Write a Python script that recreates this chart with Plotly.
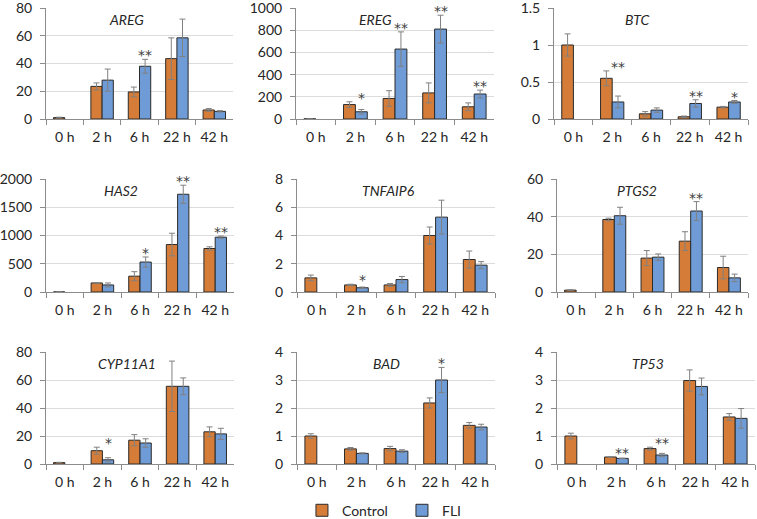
import plotly.graph_objects as go

times = ["0 h", "2 h", "6 h", "22 h", "42 h"]
genes = ["AREG", "EREG", "BTC", "HAS2", "TNFAIP6", "PTGS2", "CYP11A1", "BAD", "TP53"]

areg_ctrl = [1.0, 23.5, 19.5, 43.5, 6.5]
areg_ctrl_err = [0.3, 2.5, 3.5, 15, 1.0]
areg_fli = [None, 28, 38, 58.5, 5.5]
areg_fli_err = [None, 8, 5, 13.5, 0.5]
areg_sig = ["", "", "**", "", ""]

ereg_ctrl = [1.0, 130, 185, 235, 110]
ereg_ctrl_err = [1, 25, 70, 90, 35]
ereg_fli = [None, 65, 630, 810, 225]
ereg_fli_err = [None, 20, 155, 125, 35]
ereg_sig = ["", "*", "**", "**", "**"]

btc_ctrl = [1.0, 0.55, 0.07, 0.03, 0.16]
btc_ctrl_err = [0.15, 0.1, 0.03, 0.01, 0.01]
btc_fli = [None, 0.23, 0.12, 0.21, 0.23]
btc_fli_err = [None, 0.08, 0.03, 0.05, 0.02]
btc_sig = ["", "**", "", "**", "*"]

has2_ctrl = [1.0, 160, 280, 840, 770]
has2_ctrl_err = [1, 5, 80, 200, 30]
has2_fli = [None, 125, 530, 1730, 970]
has2_fli_err = [None, 35, 90, 160, 20]
has2_sig = ["", "", "*", "**", "**"]

tnfaip6_ctrl = [1.0, 0.5, 0.5, 4.0, 2.3]
tnfaip6_ctrl_err = [0.2, 0.05, 0.1, 0.6, 0.6]
tnfaip6_fli = [None, 0.3, 0.88, 5.3, 1.9]
tnfaip6_fli_err = [None, 0.05, 0.22, 1.2, 0.25]
tnfaip6_sig = ["", "*", "", "", ""]

ptgs2_ctrl = [1.0, 38.5, 18, 27, 13]
ptgs2_ctrl_err = [0.2, 0.7, 4, 5, 6]
ptgs2_fli = [None, 40.5, 18.5, 43, 7.5]
ptgs2_fli_err = [None, 4.5, 1.7, 5, 2]
ptgs2_sig = ["", "", "", "**", ""]

cyp11a1_ctrl = [1.0, 9.5, 17, 55.5, 23]
cyp11a1_ctrl_err = [0.2, 2.5, 4, 18, 3.5]
cyp11a1_fli = [None, 3, 15, 55.5, 21.5]
cyp11a1_fli_err = [None, 1.5, 3, 6, 4]
cyp11a1_sig = ["", "*", "", "", ""]

bad_ctrl = [1.0, 0.54, 0.55, 2.18, 1.38]
bad_ctrl_err = [0.08, 0.05, 0.08, 0.18, 0.1]
bad_fli = [None, 0.38, 0.46, 3.0, 1.32]
bad_fli_err = [None, 0.02, 0.05, 0.45, 0.1]
bad_sig = ["", "", "", "*", ""]

tp53_ctrl = [1.0, 0.25, 0.55, 2.98, 1.68]
tp53_ctrl_err = [0.1, 0.01, 0.05, 0.38, 0.12]
tp53_fli = [None, 0.2, 0.32, 2.77, 1.63]
tp53_fli_err = [None, 0.01, 0.06, 0.3, 0.35]
tp53_sig = ["", "**", "**", "", ""]

y_max = [80, 1000, 1.5, 2000, 8, 60, 80, 4, 4]
y_dtick = [20, 200, 0.5, 500, 2, 20, 20, 1, 1]

data = [
    (areg_ctrl, areg_ctrl_err, areg_fli, areg_fli_err, areg_sig),
    (ereg_ctrl, ereg_ctrl_err, ereg_fli, ereg_fli_err, ereg_sig),
    (btc_ctrl, btc_ctrl_err, btc_fli, btc_fli_err, btc_sig),
    (has2_ctrl, has2_ctrl_err, has2_fli, has2_fli_err, has2_sig),
    (tnfaip6_ctrl, tnfaip6_ctrl_err, tnfaip6_fli, tnfaip6_fli_err, tnfaip6_sig),
    (ptgs2_ctrl, ptgs2_ctrl_err, ptgs2_fli, ptgs2_fli_err, ptgs2_sig),
    (cyp11a1_ctrl, cyp11a1_ctrl_err, cyp11a1_fli, cyp11a1_fli_err, cyp11a1_sig),
    (bad_ctrl, bad_ctrl_err, bad_fli, bad_fli_err, bad_sig),
    (tp53_ctrl, tp53_ctrl_err, tp53_fli, tp53_fli_err, tp53_sig),
]

W, H = 757, 519
# panel pixel boxes: (left, right, top, bottom)
boxes = [
    (46, 233, 8, 119), (296, 494, 8, 119), (554, 748, 8, 119),
    (46, 234, 179, 292), (297, 495, 179, 292), (557, 748, 179, 292),
    (46, 234, 352, 464), (297, 495, 352, 464), (557, 755, 352, 464),
]
label_x = [0.43, 0.40, 0.43, 0.40, 0.46, 0.42, 0.43, 0.45, 0.46]

CTRL = "#D57D38"
FLI = "#6F9CD6"
ERR = "#808080"
TXT = "#262626"
FONT = "Lato"

fig = go.Figure()
annotations = []
for k, (g, (c, ce, f, fe, sig)) in enumerate(zip(genes, data)):
    n = k + 1
    xa = "x" if n == 1 else f"x{n}"
    ya = "y" if n == 1 else f"y{n}"
    fig.add_trace(go.Bar(
        x=times, y=c, name="Control", marker=dict(color=CTRL, line=dict(color="#2b2b2b", width=1)),
        error_y=dict(type="data", array=ce, color=ERR, thickness=1, width=3),
        xaxis=xa, yaxis=ya, showlegend=(k == 0), legendgroup="c"))
    fig.add_trace(go.Bar(
        x=times, y=f, name="FLI", marker=dict(color=FLI, line=dict(color="#2b2b2b", width=1)),
        error_y=dict(type="data", array=fe, color=ERR, thickness=1, width=3),
        xaxis=xa, yaxis=ya, showlegend=(k == 0), legendgroup="f"))
    l, r, t, b = boxes[k]
    axx = dict(domain=[l / W, r / W], anchor=ya, type="category", tickson="boundaries",
               ticks="outside", ticklen=5, tickcolor="#8c8c8c", showline=True, linecolor="#8c8c8c",
               linewidth=1, tickfont=dict(family=FONT, size=14, color=TXT), showgrid=False,
               ticklabelstandoff=5, automargin=False, ticklabeloverflow="allow")
    axy = dict(domain=[1 - b / H, 1 - t / H], anchor=xa, range=[0, y_max[k]], dtick=y_dtick[k],
               ticks="outside", ticklen=5, tickcolor="#8c8c8c", showline=True, linecolor="#8c8c8c",
               linewidth=1, showgrid=True, gridcolor="#dcdcdc", gridwidth=1, zeroline=False,
               tickfont=dict(family=FONT, size=14, color=TXT), ticklabelstandoff=5,
               automargin=False, ticklabeloverflow="allow")
    key = "" if n == 1 else str(n)
    fig.layout["xaxis" + key] = axx
    fig.layout["yaxis" + key] = axy
    annotations.append(dict(text=f"<i>{g}</i>", xref=f"{xa} domain", yref=f"{ya} domain",
                            x=label_x[k], y=0.9, xanchor="center", yanchor="middle", showarrow=False,
                            font=dict(family=FONT, size=14, color=TXT)))
    for i, s in enumerate(sig):
        if s:
            top = max((c[i] or 0) + (ce[i] or 0), (f[i] or 0) + (fe[i] or 0))
            annotations.append(dict(text=s, xref=xa, yref=ya, x=i + 0.15, y=top,
                                    xanchor="center", yanchor="bottom", yshift=-6, showarrow=False,
                                    font=dict(family="DejaVu Sans", size=14, color="#404040")))

fig.update_layout(
    width=W, height=H, margin=dict(l=0, r=0, t=0, b=0, autoexpand=False),
    paper_bgcolor="white", plot_bgcolor="white",
    barmode="group", bargap=0.4, bargroupgap=0,
    annotations=annotations,
    legend=dict(orientation="h", x=0.531, xanchor="center", y=0.016, yanchor="middle",
                font=dict(family=FONT, size=14, color=TXT), itemwidth=30, traceorder="normal",
                entrywidthmode="pixels", entrywidth=55),
    font=dict(family=FONT),
)
fig.write_html("out.html", config={"displayModeBar": False},
               post_script="document.body.style.margin='0';document.body.style.overflow='hidden';")
